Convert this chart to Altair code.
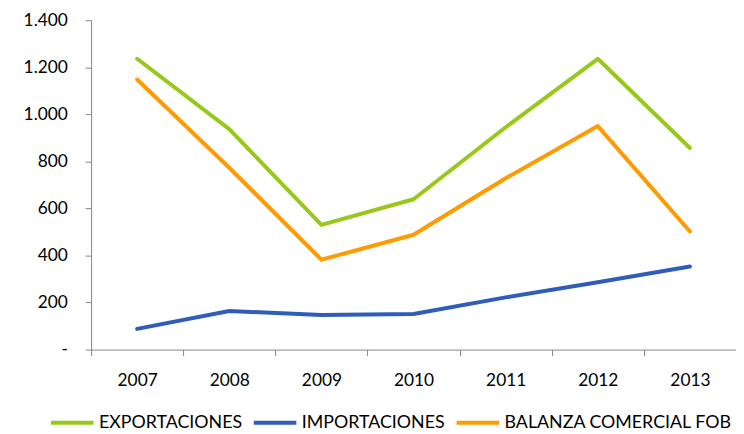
import altair as alt
import pandas as pd

years = ["2007", "2008", "2009", "2010", "2011", "2012", "2013"]
exportaciones = [1236, 937, 530, 639, 945, 1236, 857]
importaciones = [88, 164, 147, 151, 222, 286, 353]
balanza = [1148, 773, 382, 488, 728, 950, 502]

series_names = ["EXPORTACIONES", "IMPORTACIONES", "BALANZA COMERCIAL FOB"]
series_colors = ["#97C81A", "#2F5DB9", "#FF9A00"]

rows = []
for name, vals in zip(series_names, [exportaciones, importaciones, balanza]):
    for y, v in zip(years, vals):
        rows.append({"year": y, "serie": name, "value": v})
df = pd.DataFrame(rows)

FONT = "Lato"
AXIS_COLOR = "#868686"

chart = alt.Chart(df).mark_line(strokeWidth=4, strokeJoin="round", strokeCap="round").encode(
    x=alt.X(
        "year:O",
        title=None,
        bandPosition=0.5,
        scale=alt.Scale(type="band", paddingInner=0, paddingOuter=0),
        axis=alt.Axis(
            tickBand="extent", labelAngle=0, labelFontSize=17.5, labelFont=FONT,
            labelColor="#000000", domainColor=AXIS_COLOR, tickColor=AXIS_COLOR,
            tickSize=6, labelPadding=16, grid=False,
        ),
    ),
    y=alt.Y(
        "value:Q",
        title=None,
        scale=alt.Scale(domain=[0, 1400], nice=False),
        axis=alt.Axis(
            values=[0, 200, 400, 600, 800, 1000, 1200, 1400],
            labelExpr="datum.value == 0 ? '-' : replace(format(datum.value, ','), ',', '.')",
            labelFontSize=17.5, labelFont=FONT, labelColor="#000000",
            domainColor=AXIS_COLOR, tickColor=AXIS_COLOR, tickSize=6,
            labelPadding=18, grid=False,
        ),
    ),
    color=alt.Color(
        "serie:N",
        sort=series_names,
        scale=alt.Scale(domain=series_names, range=series_colors),
        legend=alt.Legend(
            title=None, orient="none", direction="horizontal",
            legendX=-43, legendY=383,
            symbolType="stroke", symbolSize=1850, symbolStrokeWidth=4,
            labelFont=FONT, labelFontSize=18, labelColor="#000000",
            labelOffset=3, columnPadding=3, labelLimit=400,
        ),
    ),
).properties(
    width=652,
    height=333,
    autosize=alt.AutoSizeParams(type="none"),
    padding={"left": 84, "top": 10, "right": 0, "bottom": 83},
).configure_view(stroke=None)

chart.save("out.html", embed_options={"renderer": "svg", "actions": False})
